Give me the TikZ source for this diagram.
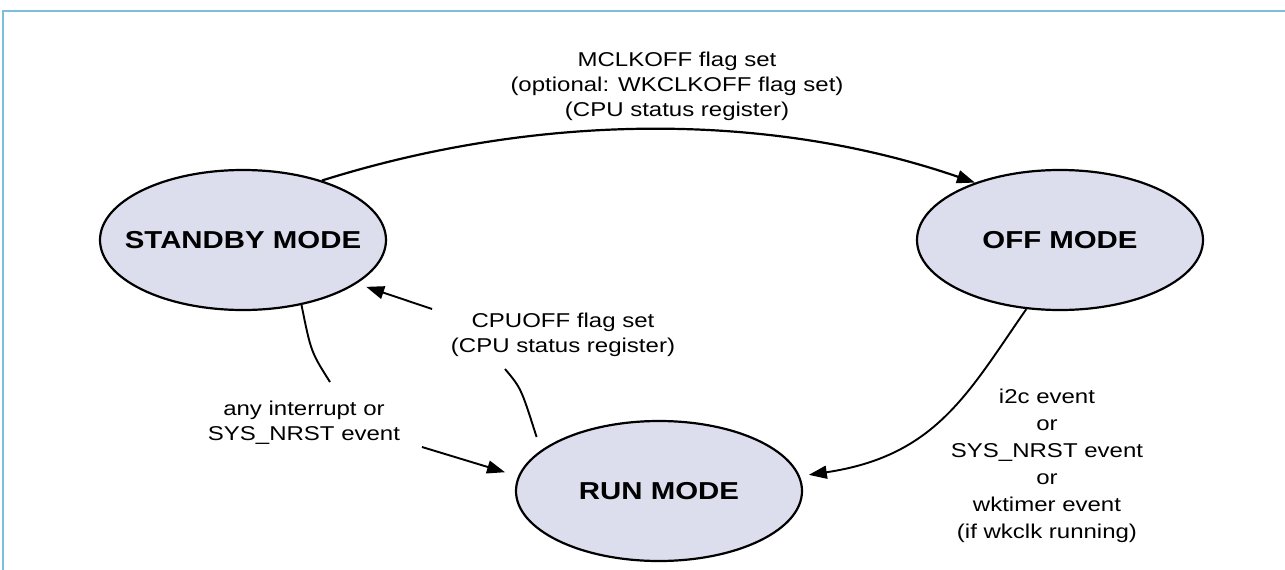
\documentclass[tikz,border=0pt]{standalone}
\usepackage{fontspec}
\setmainfont{Liberation Sans}
\newfontfamily\labfont[FakeStretch=1.2]{Liberation Sans}
\usetikzlibrary{shapes.geometric,arrows.meta}
\definecolor{modefill}{RGB}{220,222,238}
\definecolor{framecol}{RGB}{125,190,220}
\begin{document}
\begin{tikzpicture}[x=1pt,y=-1pt,
  mode/.style={ellipse,draw=black,line width=2.2pt,fill=modefill,minimum width=286pt,minimum height=140pt,inner sep=0pt,font=\labfont\bfseries\fontsize{24.5}{28}\selectfont},
  lbl/.style={align=center,inner sep=0pt,font=\labfont\fontsize{20}{25}\selectfont},
  conn/.style={line width=1.9pt,-{Triangle[length=18pt,width=13pt]}},
  seg/.style={line width=1.9pt}]
\useasboundingbox (0,0) rectangle (1285,570);
\draw[framecol,line width=2pt] (3,570) -- (3,11) -- (1285,11);
\node[mode] (standby) at (243,240) {\makebox[0pt]{STANDBY MODE}};
\node[mode] (off) at (1060,240) {\makebox[0pt]{OFF MODE}};
\node[mode] (run) at (659,491) {\makebox[0pt]{RUN MODE}};
\node[lbl] (toplbl) at (677,86) {MCLKOFF flag set\\(optional: WKCLKOFF flag set)\\(CPU status register)};
\node[lbl] (cpulbl) at (563,335) {CPUOFF flag set\\(CPU status register)};
\node[lbl] (intlbl) at (304,423) {any interrupt or\\SYS\_NRST event};
\node[lbl,font=\labfont\fontsize{20}{27}\selectfont] (evlbl) at (1047,466) {i2c event\\or\\SYS\_NRST event\\or\\wktimer event\\(if wkclk running)};
\coordinate (cpuA) at (505,369);
\coordinate (cpuB) at (432,309);
\coordinate (intA) at (330,382);
\coordinate (intB) at (422,447);
\draw[conn,line width=2.2pt] (standby.37) .. controls (540,112) and (770,112) .. (off.146);
\draw[seg,shorten <=14pt] (run.161) .. controls (521,388) .. (cpuA);
\draw[conn,shorten >=10pt] (cpuB) -- (standby.-21);
\draw[seg] (standby.-48) .. controls (311,352) .. (intA);
\draw[conn,shorten >=13.6pt] (intB) -- (run.174);
\draw[conn,shorten >=9pt] (off.-116) .. controls (968,393) and (936,456) .. (run.6);
\end{tikzpicture}
\end{document}
